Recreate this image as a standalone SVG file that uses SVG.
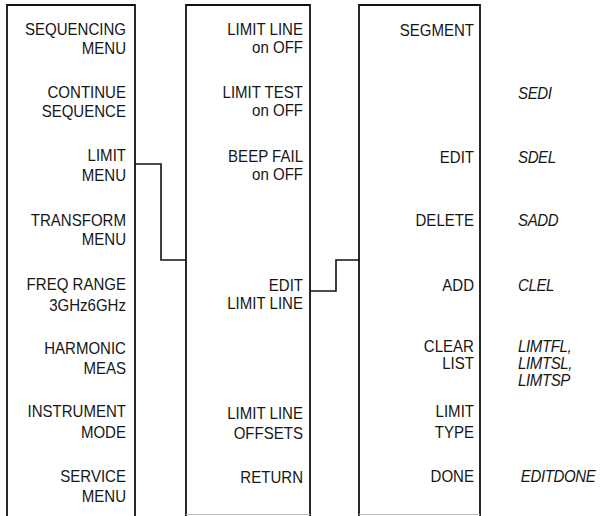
<svg xmlns="http://www.w3.org/2000/svg" width="600" height="516" viewBox="0 0 600 516">
<style>
.box{fill:none;stroke:#111;stroke-width:1.8}
.bot{stroke:#bbb;stroke-width:1}
.conn{fill:none;stroke:#111;stroke-width:1.6}
text{font-family:"Liberation Sans",Arial,sans-serif;font-size:16px;fill:#161616}
.r{text-anchor:end}
.i{font-style:italic;letter-spacing:-0.4px}
</style>
<rect width="600" height="516" fill="#fff"/>
<g id="menu1">
<path class="box" d="M7,516 V5 H135 V516"/>
<g class="r" transform="matrix(0.94 0 0 1 7.56 0)">
<text x="126" y="35">SEQUENCING</text><text x="126" y="54">MENU</text>
<text x="126" y="98">CONTINUE</text><text x="126" y="117">SEQUENCE</text>
<text x="126" y="161">LIMIT</text><text x="126" y="181">MENU</text>
<text x="126" y="226">TRANSFORM</text><text x="126" y="245">MENU</text>
<text x="126" y="290">FREQ RANGE</text><text x="126" y="311">3GHz6GHz</text>
<text x="126" y="354">HARMONIC</text><text x="126" y="374">MEAS</text>
<text x="126" y="417">INSTRUMENT</text><text x="126" y="438">MODE</text>
<text x="126" y="482">SERVICE</text><text x="126" y="502">MENU</text>
</g>
</g>
<g id="menu2">
<path class="box" d="M186,516 V5 H310 V516"/>
<line class="bot" x1="186" y1="514.5" x2="310" y2="514.5"/>
<g class="r" transform="matrix(0.94 0 0 1 18.18 0)">
<text x="303" y="35">LIMIT LINE</text><text x="303" y="53">on OFF</text>
<text x="303" y="98">LIMIT TEST</text><text x="303" y="116">on OFF</text>
<text x="303" y="162">BEEP FAIL</text><text x="303" y="180">on OFF</text>
<text x="303" y="291">EDIT</text><text x="303" y="309">LIMIT LINE</text>
<text x="303" y="419">LIMIT LINE</text><text x="303" y="439">OFFSETS</text>
<text x="303" y="483">RETURN</text>
</g>
</g>
<g id="menu3">
<path class="box" d="M359,516 V5 H480 V516"/>
<line class="bot" x1="359" y1="514.5" x2="480" y2="514.5"/>
<g class="r" transform="matrix(0.94 0 0 1 28.44 0)">
<text x="474" y="36">SEGMENT</text>
<text x="474" y="163">EDIT</text>
<text x="474" y="226">DELETE</text>
<text x="474" y="291">ADD</text>
<text x="474" y="352">CLEAR</text><text x="474" y="369">LIST</text>
<text x="474" y="417">LIMIT</text><text x="474" y="438">TYPE</text>
<text x="474" y="482">DONE</text>
</g>
</g>
<g id="commands">
<g class="i" transform="matrix(0.94 0 0 1 31.08 0)">
<text x="518" y="99">SEDI</text>
<text x="518" y="163">SDEL</text>
<text x="518" y="226">SADD</text>
<text x="518" y="291">CLEL</text>
<text x="518" y="352">LIMTFL,</text><text x="518" y="369">LIMTSL,</text><text x="518" y="386">LIMTSP</text>
<text x="521" y="482">EDITDONE</text>
</g>
</g>
<g id="connectors">
<path class="conn" d="M135,164 H161 V260 H186"/>
<path class="conn" d="M310,291 H336 V260 H359"/>
</g>
</svg>
